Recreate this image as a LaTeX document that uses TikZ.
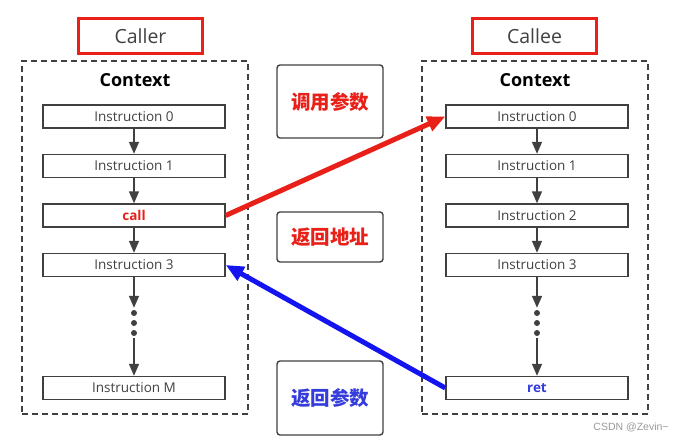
\documentclass[tikz,border=0pt]{standalone}
\usepackage{fontspec}
\setmainfont{Open Sans}
\newfontfamily\cjk{Noto Sans CJK SC}
\newfontfamily\wmfont{Liberation Sans}
\usetikzlibrary{positioning,arrows.meta}

\definecolor{linec}{RGB}{64,64,64}
\definecolor{hotred}{RGB}{232,32,24}
\definecolor{retblue}{RGB}{52,60,220}
\definecolor{arrblue}{RGB}{20,20,240}

\begin{document}
\begin{tikzpicture}[x=1pt,y=-1pt,node distance=49.5pt,on grid,
  instr/.style={draw=linec,line width=1.4pt,minimum width=182pt,minimum height=23pt,inner sep=0pt,
    text=linec,font=\fontsize{13.5}{13.5}\selectfont},
  role/.style={draw=hotred,line width=2.8pt,minimum width=124pt,minimum height=35pt,inner sep=0pt,
    text=linec,font=\fontsize{19.5}{19.5}\selectfont},
  ctxbox/.style={draw=linec,line width=1.4pt,dash pattern=on 6pt off 4pt,minimum width=226pt,minimum height=353pt},
  ctxtitle/.style={font=\fontsize{18}{18}\selectfont\bfseries,text=black},
  stackbox/.style={draw=linec,line width=1.4pt,rounded corners=3pt,minimum width=106pt,inner sep=0pt,
    font=\fontsize{19.5}{19.5}\selectfont\cjk\bfseries},
  vdotsnode/.style={minimum width=8pt,minimum height=30pt,inner sep=0pt,
    path picture={\foreach \d in {-10,0,10} \fill[linec] ([yshift=\d pt]path picture bounding box.center) circle (3pt);}},
  flow/.style={-{Triangle[length=12pt,width=10pt]},line width=1.6pt,draw=linec},
  jump/.style={-{Triangle[length=18pt,width=15pt]},line width=5pt}]
  \useasboundingbox (0,0) rectangle (685,441);

  % caller side
  \node[role] (caller) at (140.5,36) {Caller};
  \node[ctxbox] (lctx) at (135,237.5) {};
  \node[ctxtitle] (ltitle) at (135,80) {Context};
  \node[instr] (l0) at (134,116.5) {Instruction 0};
  \node[instr] (l1) [below=of l0] {Instruction 1};
  \node[instr] (l2) [below=of l1] {\textcolor{hotred}{\bfseries call}};
  \node[instr] (l3) [below=of l2] {Instruction 3};
  \node[vdotsnode] (ldots) [below=58pt of l3] {};
  \node[instr] (lM) [below=65pt of ldots] {Instruction M};

  % callee side
  \node[role] (callee) at (534.5,36) {Callee};
  \node[ctxbox] (rctx) at (535,237.5) {};
  \node[ctxtitle] (rtitle) at (535,80) {Context};
  \node[instr] (r0) at (537,116.5) {Instruction 0};
  \node[instr] (r1) [below=of r0] {Instruction 1};
  \node[instr] (r2) [below=of r1] {Instruction 2};
  \node[instr] (r3) [below=of r2] {Instruction 3};
  \node[vdotsnode] (rdots) [below=58pt of r3] {};
  \node[instr] (rret) [below=65pt of rdots] {\textcolor{retblue}{\bfseries ret}};

  % stack in the middle
  \node[stackbox,minimum height=73pt,text=hotred] (args) at (330,101.5) {调用参数};
  \node[stackbox,minimum height=50pt,text=hotred] (raddr) at (330,237) {返回地址};
  \node[stackbox,minimum height=74pt,text=retblue] (rvals) at (330,398) {返回参数};

  \foreach \a/\b in {l0/l1,l1/l2,l2/l3,r0/r1,r1/r2,r2/r3}
    \draw[flow] (\a) -- (\b);
  \draw[flow] (l3) -- (ldots.north);
  \draw[flow] (ldots.south) -- (lM);
  \draw[flow] (r3) -- (rdots.north);
  \draw[flow] (rdots.south) -- (rret);

  \draw[jump,hotred] (l2.east) -- (r0.west);
  \draw[jump,arrblue] (rret.west) -- (l3.east);

  \node[text=gray!80,font=\fontsize{10.5}{10.5}\selectfont\wmfont] (mark) at (631,427) {CSDN @Zevin\textasciitilde};
\end{tikzpicture}
\end{document}
